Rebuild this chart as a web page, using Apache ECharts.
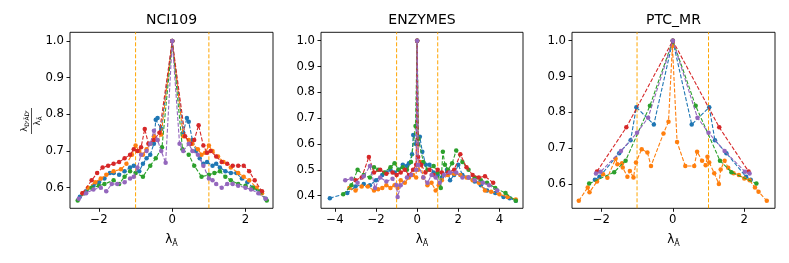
<!DOCTYPE html>
<html>
<head>
<meta charset="utf-8">
<script src="https://cdn.jsdelivr.net/npm/echarts@6/dist/echarts.min.js"></script>
<style>
html,body{margin:0;padding:0;background:#fff;}
#c{width:789px;height:263px;}
</style>
</head>
<body>
<div id="c"></div>
<script>
// ---------- titles & ticks ----------
const titles = ['NCI109', 'ENZYMES', 'PTC_MR'];
const seriesNames = ['s0', 's1', 's2', 's3', 's4'];
const nciXTicks = [-2, 0, 2];
const enzXTicks = [-4, -2, 0, 2, 4];
const ptcXTicks = [-2, 0, 2];
const nciYTicks = [0.6, 0.7, 0.8, 0.9, 1.0];
const enzYTicks = [0.4, 0.5, 0.6, 0.7, 0.8, 0.9, 1.0];
const ptcYTicks = [0.6, 0.7, 0.8, 0.9, 1.0];
const vLines = [-1, 1];

// ---------- NCI109 ----------
const nciBlue = [[-2.52,0.575],[-2.35,0.59],[-2.15,0.605],[-2.0,0.615],[-1.85,0.625],[-1.7,0.64],[-1.6,0.64],[-1.45,0.635],[-1.3,0.645],[-1.15,0.655],[-1.05,0.66],[-0.9,0.645],[-0.8,0.665],[-0.7,0.68],[-0.6,0.69],[-0.5,0.72],[-0.45,0.785],[-0.4,0.79],[-0.3,0.76],[0,1.0],[0.3,0.75],[0.4,0.79],[0.45,0.78],[0.55,0.73],[0.65,0.70],[0.75,0.68],[0.85,0.665],[0.95,0.67],[1.1,0.66],[1.2,0.665],[1.3,0.655],[1.45,0.645],[1.6,0.64],[1.75,0.64],[1.9,0.625],[2.05,0.615],[2.2,0.6],[2.4,0.585],[2.55,0.57]];
const nciOrange = [[-2.45,0.585],[-2.3,0.6],[-2.1,0.615],[-1.95,0.625],[-1.8,0.635],[-1.6,0.645],[-1.4,0.65],[-1.25,0.665],[-1.1,0.69],[-1.0,0.715],[-0.9,0.7],[-0.8,0.69],[-0.7,0.705],[-0.6,0.72],[-0.5,0.74],[-0.4,0.73],[-0.3,0.745],[0,1.0],[0.3,0.74],[0.45,0.73],[0.55,0.72],[0.7,0.705],[0.8,0.69],[0.9,0.695],[1.0,0.715],[1.1,0.7],[1.25,0.685],[1.4,0.67],[1.6,0.655],[1.8,0.64],[1.95,0.63],[2.1,0.62],[2.3,0.6],[2.45,0.585]];
const nciGreen = [[-2.58,0.565],[-2.4,0.585],[-2.2,0.6],[-2.0,0.605],[-1.85,0.61],[-1.6,0.62],[-1.45,0.61],[-1.3,0.63],[-1.15,0.645],[-1.0,0.64],[-0.8,0.63],[-0.6,0.66],[-0.45,0.68],[-0.28,0.71],[0,1.0],[0.28,0.705],[0.45,0.69],[0.6,0.66],[0.8,0.63],[1.0,0.635],[1.15,0.64],[1.3,0.645],[1.45,0.63],[1.6,0.62],[1.8,0.61],[2.0,0.605],[2.2,0.6],[2.4,0.59],[2.58,0.565]];
const nciRed = [[-2.45,0.585],[-2.2,0.62],[-2.05,0.64],[-1.9,0.655],[-1.75,0.66],[-1.6,0.665],[-1.45,0.67],[-1.3,0.68],[-1.15,0.69],[-1.05,0.705],[-0.95,0.7],[-0.85,0.71],[-0.75,0.76],[-0.65,0.72],[-0.5,0.73],[-0.35,0.75],[0,1.0],[0.35,0.74],[0.5,0.72],[0.6,0.73],[0.72,0.77],[0.85,0.715],[0.95,0.695],[1.05,0.7],[1.2,0.685],[1.35,0.67],[1.5,0.665],[1.65,0.66],[1.8,0.66],[1.95,0.66],[2.1,0.645],[2.25,0.62],[2.45,0.59]];
const nciPurple = [[-2.55,0.57],[-2.35,0.585],[-2.15,0.595],[-1.95,0.6],[-1.8,0.59],[-1.65,0.61],[-1.5,0.61],[-1.3,0.615],[-1.15,0.625],[-1.05,0.63],[-0.95,0.655],[-0.85,0.69],[-0.7,0.7],[-0.6,0.72],[-0.5,0.755],[-0.4,0.73],[-0.3,0.7],[-0.18,0.668],[0,1.0],[0.2,0.72],[0.3,0.7],[0.45,0.72],[0.55,0.7],[0.7,0.69],[0.85,0.66],[1.0,0.625],[1.1,0.62],[1.2,0.61],[1.35,0.6],[1.5,0.61],[1.65,0.61],[1.8,0.605],[2.0,0.6],[2.15,0.595],[2.35,0.585],[2.55,0.57]];

// ---------- ENZYMES ----------
const enzBlue = [[-4.25,0.39],[-3.4,0.41],[-3.0,0.435],[-2.6,0.445],[-2.3,0.44],[-2.0,0.46],[-1.7,0.48],[-1.5,0.49],[-1.3,0.5],[-1.1,0.49],[-0.9,0.5],[-0.7,0.52],[-0.5,0.515],[-0.4,0.525],[-0.25,0.56],[-0.19,0.635],[-0.06,0.6],[0,1.0],[0.05,0.6],[0.13,0.628],[0.25,0.57],[0.42,0.52],[0.6,0.52],[0.8,0.49],[1.0,0.48],[1.2,0.47],[1.45,0.5],[1.6,0.46],[1.8,0.48],[2.0,0.52],[2.2,0.48],[2.5,0.47],[2.8,0.455],[3.1,0.44],[3.4,0.42],[3.8,0.41],[4.2,0.395],[4.5,0.39],[4.8,0.38]];
const enzOrange = [[-3.3,0.43],[-3.0,0.42],[-2.7,0.435],[-2.4,0.435],[-2.1,0.42],[-1.9,0.425],[-1.7,0.43],[-1.5,0.44],[-1.3,0.43],[-1.1,0.44],[-0.95,0.43],[-0.8,0.46],[-0.6,0.45],[-0.4,0.47],[-0.2,0.48],[-0.05,0.47],[0,1.0],[0.05,0.5],[0.15,0.53],[0.3,0.47],[0.5,0.44],[0.7,0.45],[0.9,0.42],[1.05,0.44],[1.2,0.46],[1.5,0.48],[1.8,0.485],[2.1,0.48],[2.4,0.47],[2.7,0.46],[3.0,0.45],[3.3,0.42],[3.6,0.415],[4.0,0.405],[4.4,0.395],[4.8,0.385]];
const enzGreen = [[-3.6,0.405],[-3.2,0.44],[-2.9,0.5],[-2.6,0.48],[-2.3,0.47],[-2.1,0.51],[-1.9,0.5],[-1.6,0.49],[-1.3,0.51],[-1.1,0.525],[-0.9,0.5],[-0.7,0.51],[-0.5,0.5],[-0.3,0.53],[-0.08,0.67],[0,1.0],[0.06,0.62],[0.3,0.53],[0.5,0.5],[0.8,0.515],[1.0,0.49],[1.15,0.43],[1.25,0.57],[1.35,0.52],[1.5,0.5],[1.7,0.525],[1.9,0.575],[2.2,0.53],[2.5,0.5],[2.8,0.47],[3.1,0.46],[3.4,0.45],[3.8,0.43],[4.3,0.41],[4.8,0.38]];
const enzRed = [[-3.0,0.46],[-2.7,0.47],[-2.35,0.55],[-2.1,0.49],[-1.8,0.5],[-1.5,0.485],[-1.2,0.49],[-1.0,0.48],[-0.8,0.49],[-0.6,0.5],[-0.4,0.48],[-0.2,0.5],[-0.05,0.52],[0,1.0],[0.05,0.55],[0.2,0.52],[0.4,0.49],[0.6,0.5],[0.8,0.48],[1.0,0.5],[1.2,0.49],[1.5,0.49],[1.8,0.5],[2.1,0.56],[2.4,0.51],[2.7,0.48],[3.0,0.47],[3.3,0.475],[3.7,0.45]];
const enzPurple = [[-3.5,0.46],[-3.2,0.465],[-2.9,0.45],[-2.6,0.475],[-2.3,0.515],[-2.05,0.43],[-1.8,0.47],[-1.5,0.455],[-1.2,0.465],[-1.0,0.44],[-0.95,0.395],[-0.8,0.44],[-0.5,0.47],[-0.3,0.48],[-0.04,0.5],[0,1.0],[0.05,0.52],[0.3,0.47],[0.5,0.45],[0.7,0.48],[0.9,0.47],[1.1,0.45],[1.3,0.48],[1.6,0.49],[1.9,0.49],[2.2,0.47],[2.5,0.47],[2.8,0.46],[3.2,0.45],[3.5,0.44],[3.9,0.42]];

// ---------- PTC_MR ----------
const ptcBlue = [[-2.18,0.612],[-2.05,0.62],[-1.5,0.686],[-1.18,0.722],[-1.02,0.814],[-0.53,0.766],[0,1.0],[0.53,0.766],[1.02,0.814],[1.18,0.722],[1.5,0.686],[2.05,0.62],[2.18,0.612]];
const ptcOrange = [[-2.63,0.553],[-2.38,0.59],[-2.33,0.577],[-2.12,0.607],[-1.95,0.627],[-1.83,0.617],[-1.6,0.67],[-1.55,0.655],[-1.42,0.658],[-1.4,0.646],[-1.27,0.62],[-1.2,0.636],[-1.1,0.618],[-1.03,0.66],[-0.87,0.697],[-0.71,0.688],[-0.61,0.65],[-0.26,0.741],[-0.12,0.774],[-0.01,0.985],[0.12,0.717],[0.35,0.65],[0.6,0.65],[0.68,0.69],[0.82,0.665],[0.92,0.652],[0.97,0.676],[1.02,0.66],[1.16,0.63],[1.29,0.6],[1.34,0.64],[1.45,0.665],[1.55,0.645],[1.7,0.63],[1.85,0.625],[2.0,0.615],[2.15,0.61],[2.3,0.59],[2.4,0.578],[2.63,0.553]];
const ptcGreen = [[-2.34,0.601],[-1.64,0.633],[-1.32,0.665],[-0.64,0.818],[0,1.0],[0.64,0.818],[1.32,0.665],[1.64,0.633],[2.34,0.601]];
const ptcRed = [[-2.12,0.635],[-1.3,0.758],[0,1.0],[1.3,0.758],[2.12,0.635]];
const ptcPurple = [[-2.15,0.629],[-2.02,0.634],[-1.45,0.692],[-1.0,0.743],[-0.69,0.785],[0,1.0],[0.69,0.785],[1.0,0.743],[1.45,0.692],[2.02,0.634],[2.15,0.629]];

// ---------- build ----------
const colors = ['#1f77b4', '#ff7f0e', '#2ca02c', '#d62728', '#9467bd'];
const FONT = 'DejaVu Sans';
const TOP = 32.3, HEIGHT = 176;
const panels = [
  {left: 70, width: 203, xMin: -2.79, xMax: 2.75, yMin: 0.5438, yMax: 1.0237, xTicks: nciXTicks, yTicks: nciYTicks, data: [nciBlue, nciOrange, nciGreen, nciRed, nciPurple]},
  {left: 321, width: 202, xMin: -4.68, xMax: 5.15, yMin: 0.351, yMax: 1.0325, xTicks: enzXTicks, yTicks: enzYTicks, data: [enzBlue, enzOrange, enzGreen, enzRed, enzPurple]},
  {left: 572, width: 203, xMin: -2.82, xMax: 2.86, yMin: 0.532, yMax: 1.0234, xTicks: ptcXTicks, yTicks: ptcYTicks, data: [ptcBlue, ptcOrange, ptcGreen, ptcRed, ptcPurple]}
];
const fmtX = v => (v < 0 ? '\u2212' + Math.abs(v) : String(v));
const grids = [], xAxes = [], yAxes = [], series = [], graphics = [];
panels.forEach((p, i) => {
  grids.push({left: p.left, top: TOP, width: p.width, height: HEIGHT, show: true, borderColor: '#000', borderWidth: 0.9, backgroundColor: 'transparent', outerBoundsMode: 'none', containLabel: false});
  xAxes.push({
    type: 'value', gridIndex: i, min: p.xMin, max: p.xMax, position: 'bottom',
    axisLine: {show: false, onZero: false}, splitLine: {show: false},
    axisTick: {show: true, length: 3.5, customValues: p.xTicks, lineStyle: {color: '#000', width: 0.9}},
    axisLabel: {customValues: p.xTicks, formatter: fmtX, fontFamily: FONT, fontSize: 11.7, color: '#000', margin: 6},
    name: '{l|\u03bb}{s|\u0100}', nameLocation: 'middle', nameGap: 24,
    nameTextStyle: {fontFamily: FONT, color: '#000', rich: {l: {fontFamily: FONT, fontSize: 12, lineHeight: 16, color: '#000'}, s: {fontFamily: FONT, fontSize: 8, verticalAlign: 'bottom', color: '#000'}}}
  });
  yAxes.push({
    type: 'value', gridIndex: i, min: p.yMin, max: p.yMax, position: 'left',
    axisLine: {show: false, onZero: false}, splitLine: {show: false},
    axisTick: {show: true, length: 3.5, customValues: p.yTicks, lineStyle: {color: '#000', width: 0.9}},
    axisLabel: {customValues: p.yTicks, formatter: v => v.toFixed(1), fontFamily: FONT, fontSize: 11.7, color: '#000', margin: 6}
  });
  vLines.forEach(v => {
    series.push({
      type: 'line', xAxisIndex: i, yAxisIndex: i, data: [[v, p.yMin], [v, p.yMax]],
      symbol: 'none', silent: true, animation: false, z: 1,
      lineStyle: {color: '#ffa500', type: [4, 2], width: 1}
    });
  });
  p.data.forEach((d, k) => {
    series.push({
      name: seriesNames[k], type: 'line', xAxisIndex: i, yAxisIndex: i, data: d,
      symbol: 'circle', symbolSize: 4.5, showSymbol: true, showAllSymbol: true,
      lineStyle: {color: colors[k], width: 1.1, type: [4, 1.8]},
      itemStyle: {color: colors[k]}, z: 2 + k, animation: false, silent: true
    });
  });
  graphics.push({type: 'text', x: p.left + p.width / 2, y: 20,
    style: {text: titles[i], font: '14px "' + FONT + '"', fill: '#000', align: 'center', verticalAlign: 'middle'}});
});
// y-axis label (fraction) on first panel
graphics.push({
  type: 'group', x: 31.5, y: 121, rotation: Math.PI / 2,
  children: [
    {type: 'text', x: 0, y: -1, style: {text: '{l|\u03bb}{s|D\u02b3\u00c3D\u02b3}', align: 'center', verticalAlign: 'bottom',
      rich: {l: {fontFamily: FONT, fontSize: 8.5, lineHeight: 11, fill: '#000'}, s: {fontFamily: FONT, fontSize: 6, verticalAlign: 'bottom', fill: '#000'}}}},
    {type: 'line', shape: {x1: -13, y1: 0, x2: 13, y2: 0}, style: {stroke: '#000', lineWidth: 0.7}},
    {type: 'text', x: 0, y: 1, style: {text: '{l|\u03bb}{s|\u0100}', align: 'center', verticalAlign: 'top',
      rich: {l: {fontFamily: FONT, fontSize: 8.5, lineHeight: 11, fill: '#000'}, s: {fontFamily: FONT, fontSize: 6, verticalAlign: 'bottom', fill: '#000'}}}}
  ]
});

const chart = echarts.init(document.getElementById('c'), null, {renderer: 'canvas'});
chart.setOption({
  animation: false,
  backgroundColor: '#fff',
  textStyle: {fontFamily: FONT},
  grid: grids, xAxis: xAxes, yAxis: yAxes, series: series, graphic: graphics
});
</script>
</body>
</html>
